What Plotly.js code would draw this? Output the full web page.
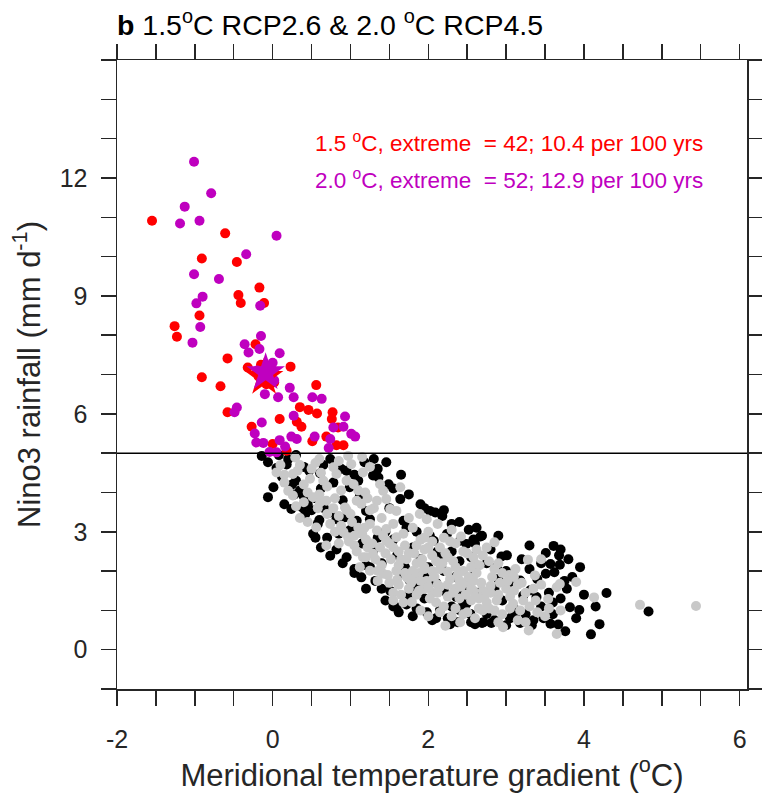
<!DOCTYPE html>
<html>
<head>
<meta charset="utf-8">
<script src="https://cdn.plot.ly/plotly-3.0.1.min.js"></script>
<style>html,body{margin:0;padding:0;background:#fff;}#chart{width:762px;height:804px;}</style>
</head>
<body>
<div id="chart"></div>
<script>
// ---------- DATA ----------
// 1.5 C, non-extreme years (black)
const blackX = [-0.14,-0.06,0.01,-0.06,0.24,0.05,0.12,0.18,0.30,0.35,0.40,0.45,0.38,0.50,0.47,0.61,0.74,0.20,0.08,0.28,0.55,0.42,
  0.60,0.66,0.74,0.82,0.93,1.08,0.99,0.88,1.18,1.05,0.70,0.74,0.95,0.85,1.00,1.15,0.62,0.78,1.12,0.90,1.20,1.25,
  1.29,1.36,1.46,1.49,1.64,1.68,1.72,1.14,1.51,1.59,1.76,1.85,1.30,1.40,1.55,1.45,1.60,1.35,1.70,1.80,1.90,1.95,1.25,1.50,1.85,1.75,1.65,1.95,
  2.02,2.09,2.02,2.07,2.24,2.41,2.49,2.69,2.15,2.71,2.36,2.45,2.54,2.15,2.10,2.20,2.30,2.35,2.40,2.50,2.55,2.60,2.65,2.05,2.25,2.30,2.75,2.60,2.58,2.41,2.49,2.45,2.75,2.69,2.81,2.20,2.00,2.12,
  2.67,2.94,3.01,3.61,3.51,3.69,3.57,3.62,3.51,3.95,4.29,4.83,3.82,3.94,4.09,3.57,3.67,3.76,3.18,3.33,3.22,3.31,3.39,3.09,3.18,2.90,3.00,2.95,3.10,3.25,3.40,3.45,2.85,3.05,2.88,3.30,3.55,
  0.15,0.25,0.58,0.52,0.62,0.82,0.90,1.05,1.20,1.32,1.45,1.40,1.62,1.72,1.85,1.98,2.10,2.28,2.38,2.60,2.85,3.00,3.12,3.48,3.60,3.70,3.78,3.85,3.45,3.20,
  2.80,2.52,2.30,2.18,1.90,1.75,1.55,1.10,0.95,1.35,0.40,0.30,0.65,2.90,3.30,3.68,4.00,4.15,3.90,4.20,
  1.20,1.05,1.55,1.80,2.55,3.35,3.60,3.75,3.70,3.80,2.62,2.40,2.20,1.95,1.65,1.30,0.55];
const blackY = [4.93,4.77,4.13,3.88,3.58,4.62,4.40,4.71,4.30,4.05,3.90,3.70,3.62,3.55,4.55,4.49,4.85,4.85,4.95,3.95,3.85,3.45,
  3.30,3.60,3.49,3.32,3.37,3.28,4.13,4.60,4.77,4.45,2.85,2.39,2.35,2.95,3.05,2.70,4.10,4.25,3.90,3.80,3.53,3.32,
  4.43,4.38,4.77,4.21,3.83,3.28,3.11,1.84,1.50,1.08,1.76,1.59,2.55,2.20,2.80,3.00,2.40,2.85,2.10,2.60,2.30,1.90,2.10,3.60,3.00,1.40,1.95,1.30,
  3.53,3.49,2.90,2.77,2.94,2.77,2.69,2.90,2.31,0.70,1.34,1.17,0.91,1.00,1.70,2.00,2.50,1.85,2.25,1.60,2.35,1.95,1.45,0.75,0.80,1.10,2.20,2.70,2.80,1.00,1.17,1.42,0.91,0.68,0.68,1.50,2.10,2.50,
  2.88,2.37,2.40,2.64,2.46,2.16,2.18,1.97,1.93,2.10,1.44,0.97,1.08,1.01,0.39,0.66,0.64,0.47,0.68,0.62,1.38,1.51,1.34,1.67,1.76,1.80,2.00,1.25,1.05,0.90,1.80,1.10,1.55,0.80,2.10,2.05,1.45,
  3.70,4.20,3.20,2.95,2.60,2.55,2.20,2.05,1.55,1.75,1.25,1.55,0.95,1.15,1.05,0.95,0.80,0.65,0.70,0.65,0.75,0.62,0.90,0.80,0.90,1.30,1.55,1.85,2.20,2.30,
  2.55,3.05,3.20,3.40,3.70,3.95,4.10,4.30,4.55,4.60,4.65,4.95,4.70,2.90,2.65,2.40,1.40,1.10,0.80,0.65,
  2.15,1.95,1.10,0.85,0.70,0.75,1.20,1.75,2.55,2.30,3.10,3.25,3.55,3.60,4.45,4.85,2.85];

// 2.0 C, non-extreme years (grey)
const greyX = [0.29,0.05,0.26,0.20,0.26,0.78,0.82,0.97,1.01,0.95,1.04,1.16,1.19,1.38,1.42,1.64,1.08,1.14,0.52,0.61,0.69,0.93,1.34,1.46,1.51,1.59,1.89,1.98,0.56,0.74,0.91,0.97,0.69,1.25,1.34,1.46,1.16,1.29,1.38,1.46,1.59,1.12,1.25,1.42,1.59,
  1.35,1.50,1.60,1.72,1.80,1.88,1.95,2.05,2.15,2.25,2.35,2.45,2.60,1.55,1.68,1.79,1.85,1.95,2.05,2.15,2.25,2.35,2.48,2.58,2.70,2.80,2.90,3.00,2.10,2.20,2.40,2.55,2.65,2.75,2.85,2.95,2.22,2.41,2.30,1.90,2.00,
  1.65,1.75,1.85,1.95,2.05,2.15,2.25,2.35,2.50,2.62,1.70,1.80,1.90,2.00,2.12,2.30,2.85,3.28,3.37,3.90,4.13,4.72,5.44,3.65,3.29,2.96,3.09,3.18,3.54,3.65,3.69,
  2.58,2.66,2.78,3.04,3.12,3.20,3.35,3.45,2.50,2.60,2.70,3.15,3.40,3.50,3.70,2.42,2.28,0.40,0.50,0.65,0.35,0.45,0.80,1.05,1.20,0.85,1.00,0.15,0.60,1.25,1.10,1.52,1.40,
  0.10,0.32,0.45,0.58,0.70,0.88,1.02,1.15,1.22,1.32,1.45,1.55,1.62,1.70,1.78,1.85,1.92,1.98,2.08,2.12,2.18,2.28,2.32,2.38,2.42,2.52,2.55,2.62,2.68,2.72,
  2.82,2.88,2.92,3.05,3.10,3.22,3.30,2.02,1.88,1.75,1.62,1.48,1.35,1.20,1.08,0.98,0.85,0.78,0.60,0.48,0.70,1.30,1.40,1.55,1.68,1.75,2.20,2.45,2.70,2.90,
  3.10,3.45,2.15,2.35,2.45,2.90,3.05,3.25,3.55,1.55,1.65,2.55,2.75,2.00,1.80,2.65,2.78,3.38,1.25,0.88,0.55,0.40,
  1.05,1.18,1.28,1.42,1.50,1.62,1.72,1.82,1.95,2.10,2.22,2.32,2.40,2.48,2.58,2.25,2.12,2.00,1.90,1.75,2.60,2.80,2.85,2.95,3.02,3.15,3.25,1.85,1.95,2.05,
  0.95,0.80,1.10,1.22,0.62,0.35,0.15,0.85,1.15,0.30];
const greyY = [4.89,4.51,4.47,4.04,3.92,4.64,4.47,4.93,4.72,4.30,4.21,4.51,4.00,4.21,4.04,4.13,3.79,3.71,3.88,3.75,3.79,3.62,3.79,3.83,3.58,3.53,3.45,3.32,3.11,3.20,2.99,2.86,2.65,3.20,3.03,3.07,2.35,2.44,2.60,2.77,2.86,2.10,2.01,1.93,2.01,
  1.75,1.70,1.78,1.85,1.90,1.95,2.10,2.00,2.05,1.98,2.10,2.00,2.20,1.45,1.20,1.21,1.40,1.55,1.45,1.60,1.65,1.55,1.70,1.75,1.50,1.62,1.40,1.55,1.20,1.10,1.30,1.25,1.05,1.20,1.00,0.90,0.61,0.70,0.85,1.00,0.85,
  2.30,2.45,2.20,2.55,2.40,2.60,2.35,2.70,2.45,2.55,2.65,3.10,2.80,3.00,3.20,3.05,2.73,2.29,1.89,1.72,1.33,1.14,1.11,0.40,0.49,0.57,1.17,1.00,1.29,1.59,1.67,
  2.35,2.15,2.25,1.90,2.05,1.70,1.55,1.65,0.95,0.80,1.00,0.75,0.95,0.85,1.00,2.88,2.75,4.20,4.60,4.30,3.35,3.25,3.00,2.65,2.80,3.40,3.45,4.25,4.85,4.65,3.10,2.30,2.15,
  4.70,4.55,4.00,3.60,3.45,3.15,3.25,2.95,2.60,2.30,2.45,2.60,2.15,1.95,1.70,1.85,2.30,1.75,1.85,1.65,2.20,1.80,1.45,1.90,1.60,1.85,1.55,1.95,1.70,1.35,
  1.85,1.25,1.70,1.35,1.50,1.25,1.10,1.30,1.50,1.55,1.65,1.90,2.00,2.35,2.50,2.75,2.70,3.60,3.95,4.35,4.15,3.60,3.35,3.20,2.95,3.35,2.85,2.50,2.40,2.20,
  1.85,2.30,0.95,1.05,0.90,0.70,1.05,0.70,1.05,1.25,1.40,2.10,2.60,2.60,2.00,1.30,1.05,1.25,3.55,4.05,4.75,3.75,
  2.90,3.10,2.70,2.90,2.70,2.50,2.30,2.45,2.05,2.25,2.45,2.25,1.75,1.40,1.50,1.35,1.45,1.60,1.75,1.80,1.35,1.45,2.05,1.95,1.75,1.65,1.45,2.65,2.85,2.75,
  3.55,3.85,4.05,3.85,4.50,4.70,4.45,4.80,4.90,3.65];

// 1.5 C extreme years (red)
const redX = [-1.55,-0.61,-0.91,-0.46,-0.17,-0.44,-0.41,-0.11,-0.94,-1.26,-1.23,-0.22,-0.58,0.23,-0.32,-0.91,-0.67,0.56,-0.58,0.35,0.46,0.57,0.09,0.31,0.37,0.77,0.76,0.84,-0.27,0.51,0.69,0.82,0.91,0.00,0.18,
  -0.12,-0.05,-0.15,0.00,-0.08,-0.18,0.02];
const redY = [10.91,10.59,9.95,9.86,9.21,9.02,8.82,8.82,8.50,8.23,7.96,7.77,7.41,7.20,7.18,6.93,6.70,6.73,6.04,6.17,6.10,6.01,5.87,5.80,5.67,6.04,5.87,5.65,5.67,5.30,5.42,5.20,5.20,5.23,5.06,
  7.00,6.85,7.25,7.10,6.75,6.95,6.80];

// 2.0 C extreme years (magenta)
const magX = [-1.01,-0.79,-1.13,-1.19,-0.94,0.05,-0.34,-1.01,-0.69,-0.90,-0.98,-0.93,-1.03,-0.16,-0.15,-0.36,-0.31,-0.17,0.09,-0.10,0.07,0.22,0.27,0.51,0.63,-0.46,-0.49,0.27,-0.14,0.93,0.78,0.91,1.01,1.06,-0.23,-0.21,-0.12,0.09,0.16,0.24,0.31,0.54,0.74,0.72,-0.04,0.05,
  -0.05,-0.15,0.00,-0.20,-0.10,0.02];
const magY = [12.41,11.61,11.27,10.84,10.91,10.53,10.06,9.55,9.43,8.98,8.81,8.21,7.81,8.75,7.98,7.77,7.56,7.65,7.54,6.50,6.42,6.66,6.42,6.42,6.38,6.16,6.04,5.95,5.78,5.93,5.65,5.67,5.49,5.42,5.50,5.27,5.26,5.33,5.17,5.42,5.36,5.42,5.36,5.13,5.03,5.02,
  7.20,6.90,7.30,7.10,7.00,6.85];

// ensemble means (stars)
const starRedX = [-0.11], starRedY = [6.93];
const starMagX = [-0.09], starMagY = [7.05];

const threshold = 5;

// axis ticks
const xTickVals = [-2,-1.5,-1,-0.5,0,0.5,1,1.5,2,2.5,3,3.5,4,4.5,5,5.5,6];
const xTickText = ['-2','','','','0','','','','2','','','','4','','','','6'];
const yTickVals = [-1,0,1,2,3,4,5,6,7,8,9,10,11,12,13,14,15];
const yTickText = ['','0','','','3','','','6','','','9','','','12','','',''];

const titleText = '<b>b</b> 1.5<sup>o</sup>C RCP2.6 & 2.0 <sup>o</sup>C RCP4.5';
const xTitle = 'Meridional temperature gradient (<sup>o</sup>C)';
const yTitle = 'Nino3 rainfall (mm d<sup>-1</sup>)';
const note1 = '1.5 <sup>o</sup>C, extreme\u00a0 = 42; 10.4 per 100 yrs';
const note2 = '2.0 <sup>o</sup>C, extreme\u00a0 = 52; 12.9 per 100 yrs';

// ---------- PLOT ----------
const FONT = 'Liberation Sans, Arial, Helvetica, sans-serif';
const AX = '#262626';
const RED = '#ff0000', MAG = '#bf00bf', BLK = '#000000', GRY = '#c8c8c8';

function dots(x, y, c) {
  return {type: 'scatter', mode: 'markers', x: x, y: y, hoverinfo: 'skip',
    marker: {color: c, size: 10, line: {width: 0}}, showlegend: false};
}

const traces = [
  dots(blackX, blackY, BLK),
  dots(greyX, greyY, GRY),
  dots(redX, redY, RED),
  dots(magX, magY, MAG),
  {type: 'scatter', mode: 'markers', x: starRedX, y: starRedY, showlegend: false,
   marker: {symbol: 'star', size: 29, color: RED, line: {width: 0}}},
  {type: 'scatter', mode: 'markers', x: starMagX, y: starMagY, showlegend: false,
   marker: {symbol: 'star', size: 29, color: MAG, line: {width: 0}}}
];

const axCommon = {
  showline: true, linecolor: AX, linewidth: 1.5, mirror: 'ticks',
  ticks: 'outside', ticklen: 15, tickwidth: 1.5, tickcolor: AX,
  showgrid: false, zeroline: false, tickmode: 'array',
  tickfont: {family: FONT, size: 25, color: AX}
};

const layout = {
  width: 762, height: 804,
  margin: {l: 117.3, r: 15.3, t: 60, b: 114.7, pad: 0},
  paper_bgcolor: '#ffffff', plot_bgcolor: '#ffffff',
  font: {family: FONT, color: AX},
  title: {text: titleText, font: {family: FONT, size: 28.5, color: '#000'},
          xref: 'paper', x: 0, xanchor: 'left', yref: 'container', y: 1 - 25/804, yanchor: 'middle'},
  xaxis: Object.assign({}, axCommon, {
    range: [-2, 6.095], tickvals: xTickVals, ticktext: xTickText, ticklabelstandoff: 12,
    title: {text: xTitle, font: {family: FONT, size: 31, color: AX}, standoff: 12}
  }),
  yaxis: Object.assign({}, axCommon, {
    range: [-1, 15], tickvals: yTickVals, ticktext: yTickText, ticklabelstandoff: 8,
    title: {text: yTitle, font: {family: FONT, size: 31, color: AX}, standoff: 10}
  }),
  shapes: [{type: 'line', xref: 'paper', x0: 0, x1: 1, yref: 'y', y0: threshold, y1: threshold,
            line: {color: '#000', width: 1.5}, layer: 'above'}],
  annotations: [
    {text: note1, xref: 'paper', yref: 'paper', x: 0.311, y: 0.870, xanchor: 'left', yanchor: 'middle',
     showarrow: false, font: {family: FONT, size: 22.5, color: RED}},
    {text: note2, xref: 'paper', yref: 'paper', x: 0.311, y: 0.811, xanchor: 'left', yanchor: 'middle',
     showarrow: false, font: {family: FONT, size: 22.5, color: MAG}}
  ]
};

Plotly.newPlot('chart', traces, layout, {displayModeBar: false, staticPlot: true});
</script>
</body>
</html>
